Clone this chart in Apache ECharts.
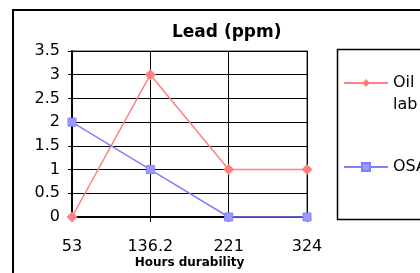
<!DOCTYPE html>
<html>
<head>
<meta charset="utf-8">
<script src="https://cdn.jsdelivr.net/npm/echarts@6/dist/echarts.min.js"></script>
<style>
  html, body { margin: 0; padding: 0; background: #fff; }
  #chart { width: 420px; height: 273px; }
</style>
</head>
<body>
<div id="chart"></div>
<script>
// data
var hours = ['53', '136.2', '221', '324']
var oilLab = [0, 3, 1, 1]
var osa = [2, 1, 0, 0]
var yTicks = [0, 0.5, 1, 1.5, 2, 2.5, 3, 3.5]

var font = 'DejaVu Sans, Arial, sans-serif'
var myChart = echarts.init(document.getElementById('chart'))

var option = {
  animation: false,
  backgroundColor: '#fff',
  textStyle: { fontFamily: font },
  title: {
    text: 'Lead (ppm)',
    left: 172,
    top: 24,
    padding: 0,
    textStyle: { fontFamily: font, fontSize: 17, fontWeight: 'bold', color: '#000' }
  },
  graphic: [
    { type: 'rect', shape: { x: 13, y: 10, width: 420, height: 280 }, style: { fill: 'none', stroke: '#000', lineWidth: 2 }, silent: true },
    { type: 'rect', shape: { x: 337.5, y: 49.5, width: 100, height: 170 }, style: { fill: 'none', stroke: '#000', lineWidth: 1.5 }, silent: true }
  ],
  legend: [
    {
      data: ['Oil lab'],
      orient: 'vertical',
      left: 343,
      top: 50,
      itemWidth: 44,
      itemHeight: 10,
      padding: 0,
      // blank first line keeps "Oil" level with the icon, "lab" wraps below
      formatter: function () { return ' \nOil\nlab' },
      textStyle: { fontFamily: font, fontSize: 16, color: '#000', lineHeight: 22 }
    },
    {
      data: ['OSA'],
      orient: 'vertical',
      left: 343,
      top: 159,
      itemWidth: 44,
      itemHeight: 10,
      padding: 0,
      textStyle: { fontFamily: font, fontSize: 16, color: '#000' }
    }
  ],
  grid: {
    left: 72,
    right: 113,
    top: 51,
    bottom: 56,
    outerBoundsMode: 'none',
    show: true,
    borderColor: '#808080',
    borderWidth: 1.5
  },
  xAxis: {
    type: 'category',
    data: hours,
    boundaryGap: false,
    name: 'Hours durability',
    nameLocation: 'middle',
    nameGap: 40,
    nameMoveOverlap: false,
    nameTextStyle: { fontFamily: font, fontSize: 12, fontWeight: 'bold', color: '#000', letterSpacing: 0.7 },
    axisLine: { lineStyle: { color: '#000', width: 2 } },
    axisTick: { show: true, length: 5, lineStyle: { color: '#000' } },
    axisLabel: { fontFamily: font, fontSize: 16, color: '#000', margin: 22 },
    splitLine: { show: true, lineStyle: { color: '#000', width: 1 } }
  },
  yAxis: {
    type: 'value',
    min: yTicks[0],
    max: yTicks[yTicks.length - 1],
    interval: 0.5,
    axisLine: { show: true, lineStyle: { color: '#000', width: 2 } },
    axisTick: { show: true, length: 4, lineStyle: { color: '#000' } },
    axisLabel: { fontFamily: font, fontSize: 16, color: '#000', margin: 12 },
    splitLine: { show: true, lineStyle: { color: '#000', width: 1 } }
  },
  series: [
    {
      name: 'Oil lab',
      type: 'line',
      data: oilLab,
      symbol: 'diamond',
      symbolSize: 11,
      lineStyle: { color: '#FF8080', width: 1.5 },
      itemStyle: { color: '#FF8080' }
    },
    {
      name: 'OSA',
      type: 'line',
      data: osa,
      symbol: 'rect',
      symbolSize: 8,
      lineStyle: { color: '#8080FF', width: 1.5 },
      itemStyle: { color: '#9999FF', borderColor: '#8080FF', borderWidth: 1 }
    }
  ]
}
myChart.setOption(option)
</script>
</body>
</html>
